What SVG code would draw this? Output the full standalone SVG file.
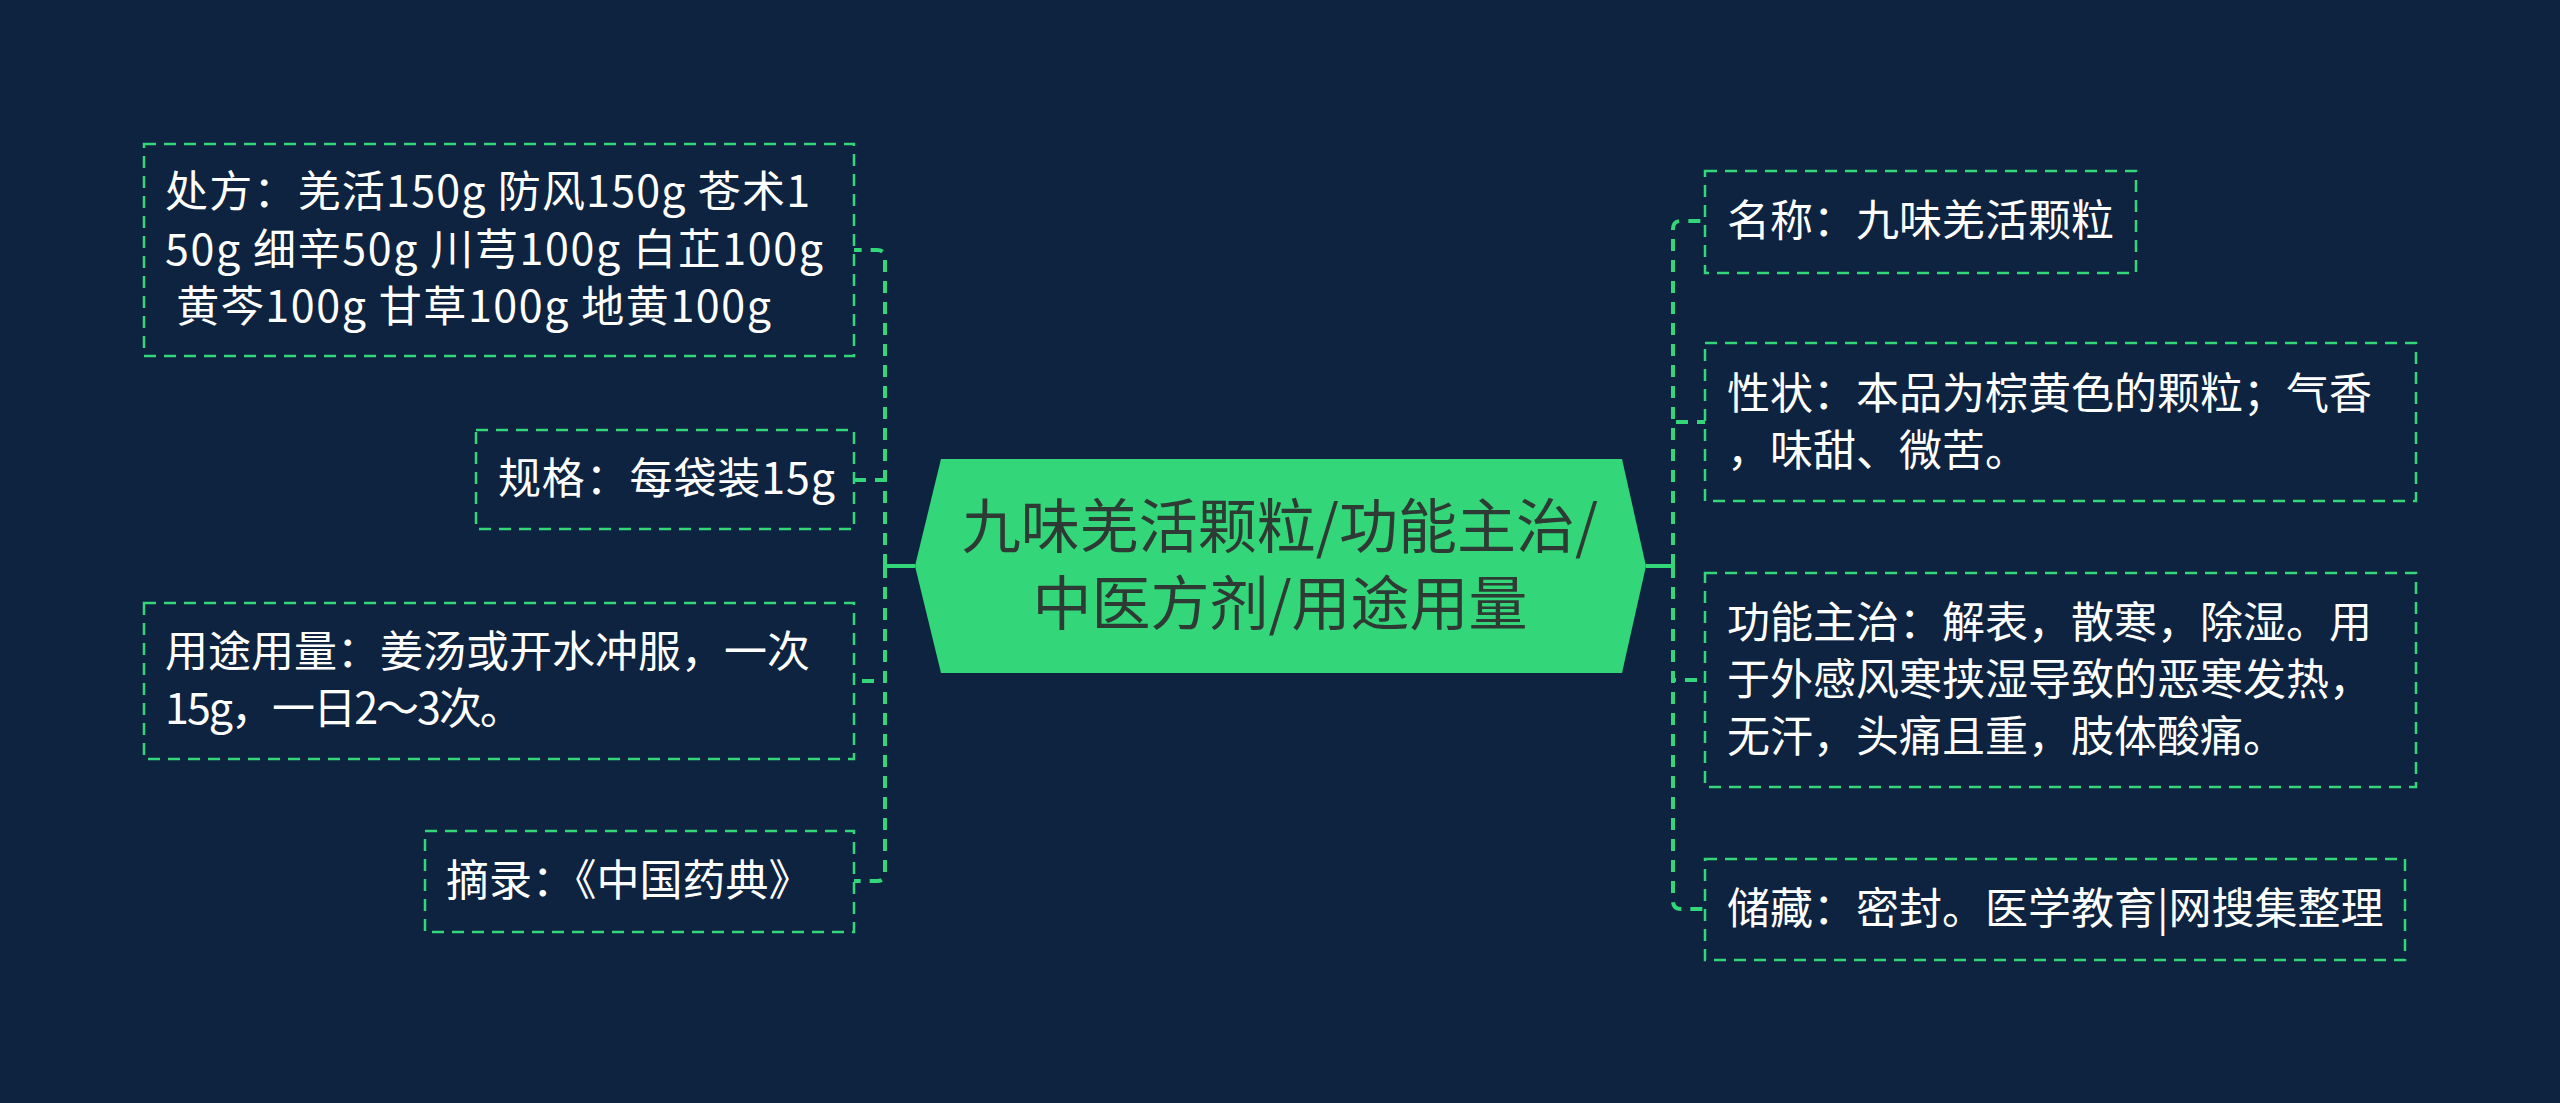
<svg xmlns="http://www.w3.org/2000/svg" width="2560" height="1103" viewBox="0 0 2560 1103">
<style>
.box{fill:none;stroke:#33d679;stroke-width:2.5;stroke-dasharray:12 8}
.t{font-family:"Noto Sans CJK SC","Noto Sans",sans-serif;font-size:43px;fill:#ffffff}
.ct{font-family:"Noto Sans CJK SC","Noto Sans",sans-serif;font-size:59px;fill:#2e3b35}
.dl{fill:none;stroke:#33d679;stroke-width:4;stroke-dasharray:12 9}
.sl{fill:none;stroke:#33d679;stroke-width:4}
</style>
<rect width="2560" height="1103" fill="#0e2340"/>
<g id="connectors">
<path class="sl" d="M885 566H915"/>
<path class="sl" d="M1646 566H1673"/>
<path class="dl" d="M885 566V258Q885 250 877 250H854"/>
<path class="dl" d="M885 566V480H854"/>
<path class="dl" d="M885 566V681H854"/>
<path class="dl" d="M885 566V873Q885 881 877 881H854"/>
<path class="dl" d="M1673 566V229Q1673 221 1681 221H1705"/>
<path class="dl" d="M1673 566V422H1705"/>
<path class="dl" d="M1673 566V680H1705"/>
<path class="dl" d="M1673 566V901Q1673 909 1681 909H1705"/>
</g>
<g id="center">
<polygon points="941,459 1622,459 1646,566 1622,673 941,673 915,566" fill="#33d679"/>
<text class="ct" x="1280" y="548" text-anchor="middle">九味羌活颗粒/功能主治/</text>
<text class="ct" x="1280" y="625" text-anchor="middle">中医方剂/用途用量</text>
</g>
<g id="n-chufang">
<rect class="box" x="144" y="144" width="710" height="212"/>
<text class="t" x="165" y="207" textLength="645" lengthAdjust="spacing">处方：羌活150g 防风150g 苍术1</text>
<text class="t" x="165" y="265" textLength="658" lengthAdjust="spacing">50g 细辛50g 川芎100g 白芷100g</text>
<text class="t" x="165" y="322" xml:space="preserve" textLength="606" lengthAdjust="spacing"> 黄芩100g 甘草100g 地黄100g</text>
</g>
<g id="n-guige">
<rect class="box" x="476" y="430" width="378" height="99"/>
<text class="t" x="498" y="494" textLength="337" lengthAdjust="spacing">规格：每袋装15g</text>
</g>
<g id="n-yongtu">
<rect class="box" x="144" y="603" width="710" height="156"/>
<text class="t" x="165" y="667">用途用量：姜汤或开水冲服，一次</text>
<text class="t" x="165" y="724" textLength="358" lengthAdjust="spacing">15g，一日2～3次。</text>
</g>
<g id="n-zhailu">
<rect class="box" x="425" y="831" width="429" height="101"/>
<text class="t" x="446" y="896">摘录：《中国药典》</text>
</g>
<g id="n-mingcheng">
<rect class="box" x="1705" y="171" width="431" height="102"/>
<text class="t" x="1727" y="236">名称：九味羌活颗粒</text>
</g>
<g id="n-xingzhuang">
<rect class="box" x="1705" y="343" width="711" height="158"/>
<text class="t" x="1727" y="409">性状：本品为棕黄色的颗粒；气香</text>
<text class="t" x="1727" y="466">，味甜、微苦。</text>
</g>
<g id="n-gongneng">
<rect class="box" x="1705" y="573" width="711" height="214"/>
<text class="t" x="1727" y="638">功能主治：解表，散寒，除湿。用</text>
<text class="t" x="1727" y="695">于外感风寒挟湿导致的恶寒发热，</text>
<text class="t" x="1727" y="752">无汗，头痛且重，肢体酸痛。</text>
</g>
<g id="n-chucang">
<rect class="box" x="1705" y="859" width="700" height="101"/>
<text class="t" x="1727" y="924">储藏：密封。医学教育|网搜集整理</text>
</g>
</svg>
